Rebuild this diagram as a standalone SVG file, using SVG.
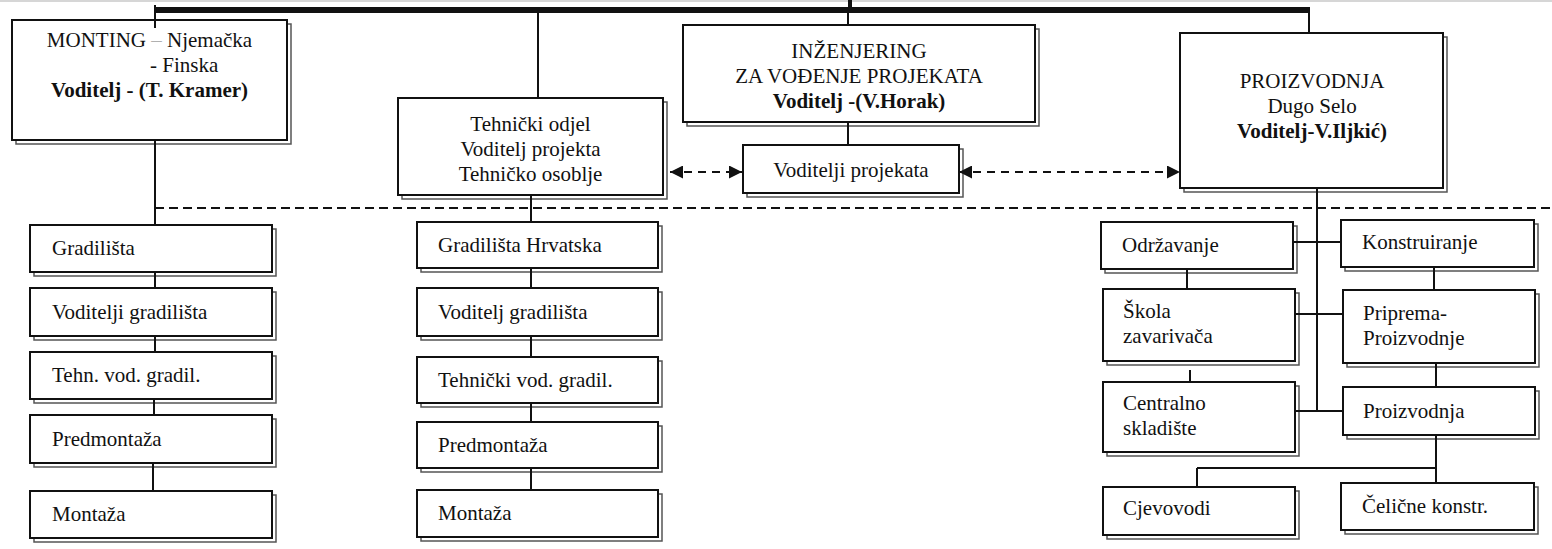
<svg xmlns="http://www.w3.org/2000/svg" width="1552" height="549" viewBox="0 0 1552 549">
<style>
  .bx { fill: #ffffff; stroke: #111111; stroke-width: 2; }
  .sh { fill: none; stroke: #555555; stroke-width: 1.5; }
  .t { font-family: "Liberation Serif", "Times New Roman", serif; font-size: 21px; fill: #111111; }
  .c { text-anchor: middle; }
  .b { font-weight: bold; }
  .ln { stroke: #111111; stroke-width: 2; fill: none; }
  .dash { stroke: #111111; stroke-width: 2; fill: none; stroke-dasharray: 9 5; }
  .adash { stroke: #111111; stroke-width: 2; fill: none; stroke-dasharray: 8 6; }
</style>
<defs>
  <marker id="ah" viewBox="0 0 13 13" refX="13" refY="6.5" markerWidth="13" markerHeight="13" markerUnits="userSpaceOnUse" orient="auto-start-reverse">
    <path d="M0,0 L13,6.5 L0,13 z" fill="#111111"/>
  </marker>
</defs>
<rect x="0" y="0" width="1552" height="549" fill="#ffffff"/>
<line x1="0" y1="1" x2="1552" y2="1" stroke="#c8c8c8" stroke-width="1.5"/>

<g id="monting">
  <rect class="sh" x="16" y="24" width="275" height="120"/>
  <rect class="bx" x="12" y="20" width="275" height="120"/>
  <text class="t c" x="149.5" y="47">MONTING <tspan fill="#b0b0b0">–</tspan> Njemačka</text>
  <text class="t" x="150" y="72">- Finska</text>
  <text class="t c b" x="149.5" y="97">Voditelj - (T. Kramer)</text>
</g>
<g id="tehnicki-odjel">
  <rect class="sh" x="402" y="102" width="265" height="97"/>
  <rect class="bx" x="398" y="98" width="265" height="97"/>
  <text class="t c" x="530.5" y="131">Tehnički odjel</text>
  <text class="t c" x="530.5" y="156">Voditelj projekta</text>
  <text class="t c" x="530.5" y="181">Tehničko osoblje</text>
</g>
<g id="inzenjering">
  <rect class="sh" x="687" y="29" width="352" height="97"/>
  <rect class="bx" x="683" y="25" width="352" height="97"/>
  <text class="t c" x="859" y="58">INŽENJERING</text>
  <text class="t c" x="859" y="83">ZA VOĐENJE PROJEKATA</text>
  <text class="t c b" x="859" y="108">Voditelj -(V.Horak)</text>
</g>
<g id="voditelji-projekata">
  <rect class="sh" x="747" y="149" width="216" height="48"/>
  <rect class="bx" x="743" y="145" width="216" height="48"/>
  <text class="t c" x="851" y="177">Voditelji projekata</text>
</g>
<g id="proizvodnja-top">
  <rect class="sh" x="1184" y="37" width="263" height="155"/>
  <rect class="bx" x="1180" y="33" width="263" height="155"/>
  <text class="t c" x="1312" y="88">PROIZVODNJA</text>
  <text class="t c" x="1312" y="113">Dugo Selo</text>
  <text class="t c b" x="1312" y="138">Voditelj-V.Iljkić)</text>
</g>

<g id="l-gradilista">
  <rect class="sh" x="34" y="229" width="242" height="47"/>
  <rect class="bx" x="30" y="225" width="242" height="47"/>
  <text class="t" x="52" y="255">Gradilišta</text>
</g>
<g id="l-voditelji-gradilista">
  <rect class="sh" x="34" y="292" width="242" height="48"/>
  <rect class="bx" x="30" y="288" width="242" height="48"/>
  <text class="t" x="52" y="319">Voditelji gradilišta</text>
</g>
<g id="l-tehn-vod">
  <rect class="sh" x="34" y="356" width="242" height="47"/>
  <rect class="bx" x="30" y="352" width="242" height="47"/>
  <text class="t" x="52" y="382">Tehn. vod. gradil.</text>
</g>
<g id="l-predmontaza">
  <rect class="sh" x="34" y="419" width="242" height="48"/>
  <rect class="bx" x="30" y="415" width="242" height="48"/>
  <text class="t" x="52" y="446">Predmontaža</text>
</g>
<g id="l-montaza">
  <rect class="sh" x="34" y="495" width="242" height="47"/>
  <rect class="bx" x="30" y="491" width="242" height="47"/>
  <text class="t" x="52" y="521">Montaža</text>
</g>

<g id="m-gradilista-hrvatska">
  <rect class="sh" x="421" y="226" width="241" height="46"/>
  <rect class="bx" x="417" y="222" width="241" height="46"/>
  <text class="t" x="438" y="252">Gradilišta Hrvatska</text>
</g>
<g id="m-voditelj-gradilista">
  <rect class="sh" x="421" y="292" width="241" height="48"/>
  <rect class="bx" x="417" y="288" width="241" height="48"/>
  <text class="t" x="438" y="319">Voditelj gradilišta</text>
</g>
<g id="m-tehnicki-vod">
  <rect class="sh" x="421" y="361" width="241" height="46"/>
  <rect class="bx" x="417" y="357" width="241" height="46"/>
  <text class="t" x="438" y="387">Tehnički vod. gradil.</text>
</g>
<g id="m-predmontaza">
  <rect class="sh" x="421" y="426" width="241" height="46"/>
  <rect class="bx" x="417" y="422" width="241" height="46"/>
  <text class="t" x="438" y="452">Predmontaža</text>
</g>
<g id="m-montaza">
  <rect class="sh" x="421" y="494" width="241" height="47"/>
  <rect class="bx" x="417" y="490" width="241" height="47"/>
  <text class="t" x="438" y="520">Montaža</text>
</g>

<g id="r-odrzavanje">
  <rect class="sh" x="1105" y="226" width="192" height="47"/>
  <rect class="bx" x="1101" y="222" width="192" height="47"/>
  <text class="t" x="1122" y="252">Održavanje</text>
</g>
<g id="r-skola">
  <rect class="sh" x="1107" y="293" width="192" height="72"/>
  <rect class="bx" x="1103" y="289" width="192" height="72"/>
  <text class="t" x="1123" y="318">Škola</text>
  <text class="t" x="1123" y="343">zavarivača</text>
</g>
<g id="r-centralno">
  <rect class="sh" x="1107" y="386" width="192" height="70"/>
  <rect class="bx" x="1103" y="382" width="192" height="70"/>
  <text class="t" x="1123" y="410">Centralno</text>
  <text class="t" x="1123" y="435">skladište</text>
</g>
<g id="r-cjevovodi">
  <rect class="sh" x="1107" y="491" width="192" height="48"/>
  <rect class="bx" x="1103" y="487" width="192" height="48"/>
  <text class="t" x="1123" y="515">Cjevovodi</text>
</g>
<g id="r-konstruiranje">
  <rect class="sh" x="1345" y="224" width="193" height="47"/>
  <rect class="bx" x="1341" y="220" width="193" height="47"/>
  <text class="t" x="1362" y="249">Konstruiranje</text>
</g>
<g id="r-priprema">
  <rect class="sh" x="1347" y="294" width="192" height="73"/>
  <rect class="bx" x="1343" y="290" width="192" height="73"/>
  <text class="t" x="1363" y="320">Priprema-</text>
  <text class="t" x="1363" y="345">Proizvodnje</text>
</g>
<g id="r-proizvodnja">
  <rect class="sh" x="1347" y="391" width="192" height="48"/>
  <rect class="bx" x="1343" y="387" width="192" height="48"/>
  <text class="t" x="1363" y="418">Proizvodnja</text>
</g>
<g id="r-celicne">
  <rect class="sh" x="1345" y="487" width="193" height="47"/>
  <rect class="bx" x="1341" y="483" width="193" height="47"/>
  <text class="t" x="1362" y="513">Čelične konstr.</text>
</g>

<g id="connectors">
  <rect x="155" y="7" width="1155" height="6" fill="#111111"/>
  <line class="ln" x1="155" y1="5" x2="155" y2="28"/>
  <line class="ln" x1="538" y1="10" x2="538" y2="98"/>
  <line x1="850" y1="0" x2="850" y2="10" stroke="#111111" stroke-width="4"/>
  <line class="ln" x1="848" y1="10" x2="848" y2="25"/>
  <line class="ln" x1="1309" y1="10" x2="1309" y2="33"/>
  <line class="ln" x1="848" y1="122" x2="848" y2="145"/>

  <line class="dash" x1="155" y1="208" x2="1552" y2="208"/>

  <line class="adash" x1="670" y1="172" x2="742" y2="172" marker-start="url(#ah)" marker-end="url(#ah)"/>
  <line class="adash" x1="959" y1="172" x2="1180" y2="172" marker-start="url(#ah)" marker-end="url(#ah)"/>

  <line class="ln" x1="155" y1="140" x2="155" y2="225"/>
  <line class="ln" x1="155" y1="272" x2="155" y2="288"/>
  <line class="ln" x1="155" y1="336" x2="155" y2="352"/>
  <line class="ln" x1="154" y1="399" x2="154" y2="415"/>
  <line class="ln" x1="153" y1="463" x2="153" y2="491"/>

  <line class="ln" x1="531" y1="195" x2="531" y2="222"/>
  <line class="ln" x1="531" y1="268" x2="531" y2="288"/>
  <line class="ln" x1="531" y1="336" x2="531" y2="357"/>
  <line class="ln" x1="531" y1="403" x2="531" y2="422"/>
  <line class="ln" x1="531" y1="468" x2="531" y2="490"/>

  <line class="ln" x1="1317" y1="188" x2="1317" y2="412"/>
  <line class="ln" x1="1293" y1="242" x2="1341" y2="242"/>
  <line class="ln" x1="1295" y1="314" x2="1343" y2="314"/>
  <line class="ln" x1="1295" y1="411" x2="1343" y2="411"/>
  <line class="ln" x1="1187" y1="269" x2="1187" y2="289"/>
  <line class="ln" x1="1190" y1="370" x2="1190" y2="382"/>
  <line class="ln" x1="1434" y1="267" x2="1434" y2="290"/>
  <line class="ln" x1="1436" y1="363" x2="1436" y2="387"/>
  <line class="ln" x1="1436" y1="435" x2="1436" y2="483"/>
  <line class="ln" x1="1197" y1="468" x2="1436" y2="468"/>
  <line class="ln" x1="1197" y1="468" x2="1197" y2="487"/>
</g>
</svg>
